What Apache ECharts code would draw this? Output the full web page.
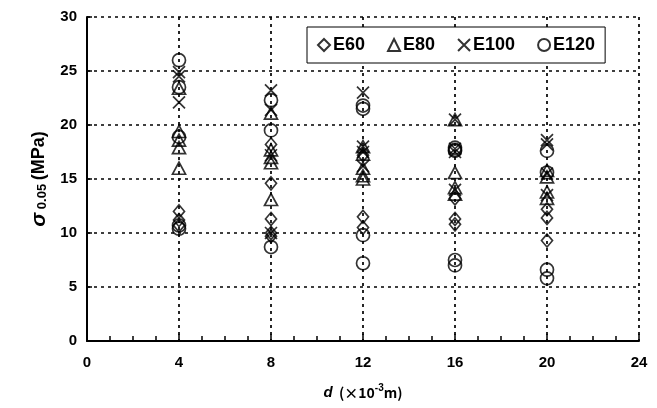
<!DOCTYPE html>
<html>
<head>
<meta charset="utf-8">
<script src="https://cdn.jsdelivr.net/npm/echarts@6/dist/echarts.min.js"></script>
<style>
  html, body { margin: 0; padding: 0; background: #fff; }
  #chart { width: 657px; height: 408px; }
</style>
</head>
<body>
<div id="chart"></div>
<script>
// Specimen size d (x10^-3 m) and measured σ0.05 (MPa) per grade
const xTicks = [0, 4, 8, 12, 16, 20, 24];
const seriesNames = ['E60', 'E80', 'E100', 'E120'];

const e60 = [
  [4, 12.0], [4, 11.2], [4, 10.7],
  [8, 18.2], [8, 14.6], [8, 11.3], [8, 10.0], [8, 9.7],
  [12, 17.2], [12, 11.5], [12, 10.5],
  [16, 13.2], [16, 11.3], [16, 10.8],
  [20, 12.2], [20, 11.4], [20, 9.3]
];
const e80 = [
  [4, 23.4], [4, 19.4], [4, 18.6], [4, 17.9], [4, 16.0],
  [8, 21.1], [8, 17.7], [8, 17.0], [8, 16.5], [8, 13.1],
  [12, 18.0], [12, 17.3], [12, 16.0], [12, 15.3], [12, 15.0],
  [16, 20.5], [16, 15.6], [16, 14.2], [16, 13.6],
  [20, 15.8], [20, 15.2], [20, 13.8], [20, 13.2]
];
const e100 = [
  [4, 24.9], [4, 24.5], [4, 22.1],
  [8, 23.2], [8, 21.4], [8, 17.2], [8, 10.0],
  [12, 23.0], [12, 18.0], [12, 17.5], [12, 16.2],
  [16, 20.5], [16, 17.8], [16, 17.5], [16, 14.0],
  [20, 18.6], [20, 18.2], [20, 15.5], [20, 13.5]
];
const e120 = [
  [4, 26.0], [4, 23.5], [4, 18.9], [4, 10.7], [4, 10.4],
  [8, 22.3], [8, 19.5], [8, 8.7],
  [12, 21.8], [12, 21.5], [12, 9.8], [12, 7.2],
  [16, 17.9], [16, 17.6], [16, 17.7], [16, 7.5], [16, 7.0],
  [20, 17.6], [20, 15.6], [20, 6.6], [20, 5.8]
];

const FONT = '"Liberation Sans", Arial, sans-serif';
const CJK = '"Noto Sans CJK JP", "Liberation Sans", sans-serif';
const dotted = { color: '#000', width: 1.7, type: [3, 4] };
const hollow = { color: 'transparent', borderColor: '#000', borderWidth: 1.7 };

function scatter(name, data, symbol, size) {
  return {
    name: name,
    type: 'scatter',
    data: data,
    symbol: symbol,
    symbolSize: size,
    itemStyle: hollow,
    emphasis: { disabled: true },
    z: 3
  };
}

const chart = echarts.init(document.getElementById('chart'), null, { renderer: 'canvas' });
chart.setOption({
  animation: false,
  backgroundColor: '#fff',
  textStyle: { fontFamily: FONT },
  grid: { left: 87, right: 18, top: 17, bottom: 67 },
  legend: {
    left: 307,
    top: 27,
    padding: [9, 10, 9, 10],
    itemGap: 22,
    itemWidth: 12,
    itemHeight: 12,
    backgroundColor: '#fff',
    borderColor: '#000',
    borderWidth: 1,
    textStyle: { fontFamily: FONT, fontWeight: 'bold', fontSize: 18, color: '#000', padding: [0, 0, 0, -2] },
    data: seriesNames
  },
  xAxis: {
    type: 'value',
    min: xTicks[0],
    max: xTicks[xTicks.length - 1],
    interval: 4,
    name: '{i|d}{n|  (×10}{sup|-3}{n|m)}',
    nameLocation: 'middle',
    nameGap: 42,
    nameTextStyle: {
      rich: {
        i: { fontFamily: FONT, fontWeight: 'bold', fontStyle: 'italic', fontSize: 15, color: '#000' },
        n: { fontFamily: CJK, fontWeight: 'bold', fontSize: 14, color: '#000' },
        sup: { fontFamily: FONT, fontWeight: 'bold', fontSize: 10, color: '#000', padding: [0, 0, 9, 0] }
      }
    },
    axisLine: { onZero: false, lineStyle: { color: '#000', width: 2 } },
    axisTick: { inside: true, length: 7, lineStyle: { color: '#000', width: 1.5 } },
    minorTick: { show: true, splitNumber: 4, length: 5, lineStyle: { color: '#000', width: 1.5 } },
    axisLabel: { color: '#000', fontWeight: 'bold', fontSize: 15, margin: 14, fontFamily: FONT },
    splitLine: { show: true, lineStyle: dotted }
  },
  yAxis: {
    type: 'value',
    min: 0,
    max: 30,
    interval: 5,
    name: '{s|σ}{sub| 0.05 }{n|(MPa)}',
    nameLocation: 'middle',
    nameGap: 36,
    nameRotate: 90,
    nameTextStyle: {
      rich: {
        s: { fontFamily: FONT, fontWeight: 'bold', fontStyle: 'italic', fontSize: 21, color: '#000' },
        sub: { fontFamily: FONT, fontWeight: 'bold', fontSize: 13, color: '#000', padding: [7, 0, 0, 0] },
        n: { fontFamily: FONT, fontWeight: 'bold', fontSize: 18, color: '#000' }
      }
    },
    axisLine: { onZero: false, lineStyle: { color: '#000', width: 2 } },
    axisTick: { inside: true, length: 5, lineStyle: { color: '#000', width: 1.5 } },
    axisLabel: { color: '#000', fontWeight: 'bold', fontSize: 15, margin: 10, fontFamily: FONT },
    splitLine: { show: true, lineStyle: dotted }
  },
  series: [
    scatter('E60', e60, 'diamond', [11, 13]),
    scatter('E80', e80, 'triangle', [13, 12]),
    scatter('E100', e100, 'path://M0,0L10,10M10,0L0,10', [12, 12]),
    scatter('E120', e120, 'circle', [13, 13])
  ]
});
</script>
</body>
</html>
